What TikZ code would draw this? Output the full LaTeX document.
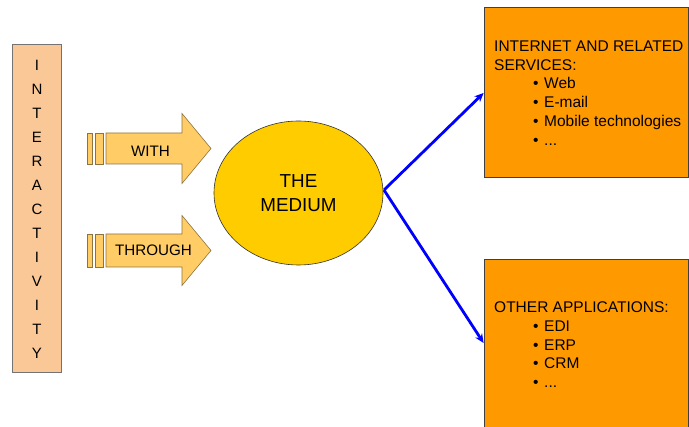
\documentclass[tikz,border=0pt]{standalone}
\usepackage{fontspec}
\setmainfont{Liberation Sans}
\usetikzlibrary{arrows.meta,shapes.geometric}
\definecolor{peach}{HTML}{FAC896}
\definecolor{arrowfill}{HTML}{FFCC66}
\definecolor{arrowline}{HTML}{8C7340}
\definecolor{mediumfill}{HTML}{FFCC00}
\definecolor{boxfill}{HTML}{FF9900}
\definecolor{boxline}{HTML}{404040}
\begin{document}
\begin{tikzpicture}[x=1pt,y=-1pt,
  blockarrow/.style={fill=arrowfill,draw=arrowline,line width=0.6pt,line join=miter},
  arrowlabel/.style={font=\fontsize{15.2}{18}\selectfont,inner sep=0pt},
  servicebox/.style={fill=boxfill,draw=boxline,line width=0.8pt},
  boxtext/.style={font=\fontsize{15.5}{18.8}\selectfont,align=left,anchor=north west,inner sep=0pt},
  link/.style={draw=blue,line width=2.8pt,-{Stealth[length=9pt,width=8pt]}}]
\useasboundingbox (0,0) rectangle (689,427);

% vertical INTERACTIVITY bar
\node[fill=peach,draw=black!55,line width=0.8pt,minimum width=49pt,minimum height=328pt,
      inner sep=0pt] (inter) at (36.5,208.5) {};
\node[font=\fontsize{15}{24}\selectfont,align=center,inner sep=0pt] (intertext) at (37,209)
  {I\\N\\T\\E\\R\\A\\C\\T\\I\\V\\I\\T\\Y};

% striped block arrows
\foreach \yc/\hb/\hh in {148.5/15.5/35, 250.5/16.5/35}{
  \draw[blockarrow] (87.3,\yc-\hb) rectangle (92,\yc+\hb);
  \draw[blockarrow] (95,\yc-\hb) rectangle (103,\yc+\hb);
  \draw[blockarrow] (106,\yc-\hb) -- (182,\yc-\hb) -- (182,\yc-\hh) -- (211,\yc)
     -- (182,\yc+\hh) -- (182,\yc+\hb) -- (106,\yc+\hb) -- cycle;
}
\node[arrowlabel] (with) at (150.5,151) {WITH};
\node[arrowlabel] (through) at (153.5,250.5) {THROUGH};

% central ellipse
\node[ellipse,fill=mediumfill,draw=black!80,line width=0.6pt,minimum width=169pt,
      minimum height=144pt,inner sep=0pt,align=center,
      font=\fontsize{18.8}{24}\selectfont] (medium) at (298.5,193) {THE\\MEDIUM};

% right-hand boxes
\node[servicebox,minimum width=204pt,minimum height=170pt,inner sep=0pt] (internet) at (586,92) {};
\node[servicebox,minimum width=204pt,minimum height=180pt,inner sep=0pt] (other) at (586,349) {};

\node[boxtext] (internettext) at (494,40.5)
  {INTERNET AND RELATED\\SERVICES:\\
   \hspace*{39pt}\makebox[11pt][l]{•}Web\\
   \hspace*{39pt}\makebox[11pt][l]{•}E-mail\\
   \hspace*{39pt}\makebox[11pt][l]{•}Mobile technologies\\
   \hspace*{39pt}\makebox[11pt][l]{•}...};
\node[boxtext] (othertext) at (494,301.5)
  {OTHER APPLICATIONS:\\
   \hspace*{39pt}\makebox[11pt][l]{•}EDI\\
   \hspace*{39pt}\makebox[11pt][l]{•}ERP\\
   \hspace*{39pt}\makebox[11pt][l]{•}CRM\\
   \hspace*{39pt}\makebox[11pt][l]{•}...};

% blue connectors
\coordinate (hub) at (384,190);
\coordinate (intin) at (internet.west |- 0,93);
\coordinate (othin) at (other.west |- 0,343);
\draw[link] (hub) -- (intin);
\draw[link] (hub) -- (othin);
\end{tikzpicture}
\end{document}
